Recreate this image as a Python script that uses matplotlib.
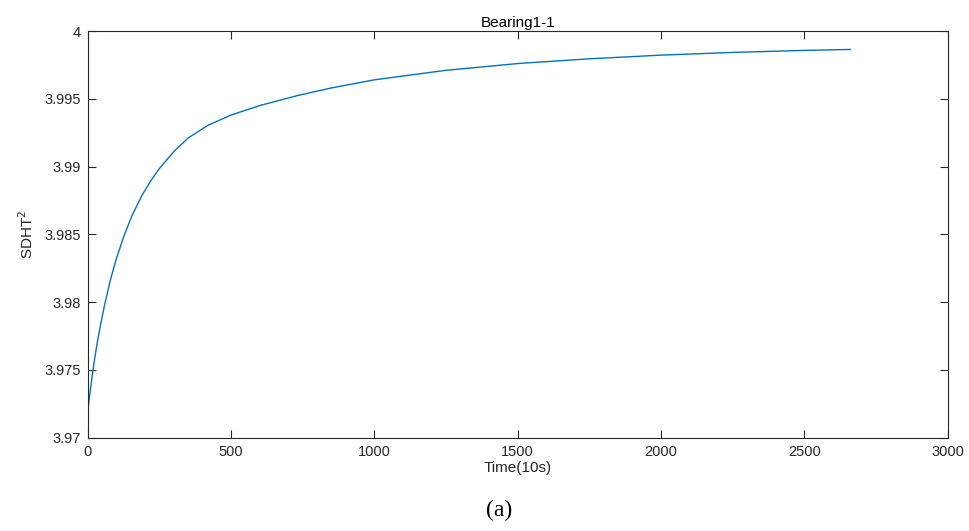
import numpy as np
import matplotlib
matplotlib.use("Agg")
import matplotlib.pyplot as plt

# values (time in units of 10 s)
time = [0, 5, 10, 16, 23, 32, 45, 60, 80, 100, 126, 155, 190, 220, 250, 300, 350,
        420, 500, 600, 734, 850, 1000, 1250, 1500, 1750, 2000, 2250, 2500, 2660]
sdht2 = [3.97190, 3.97280, 3.97365, 3.97461, 3.97565, 3.97685, 3.97835, 3.97990,
         3.98170, 3.98320, 3.98485, 3.98640, 3.98790, 3.98895, 3.98985, 3.99110,
         3.99210, 3.99305, 3.99380, 3.99450, 3.99525, 3.99580, 3.99640, 3.99710,
         3.99760, 3.99795, 3.99822, 3.99842, 3.99857, 3.99864]

xticks = [0, 500, 1000, 1500, 2000, 2500, 3000]
yticks = [3.97, 3.975, 3.98, 3.985, 3.99, 3.995, 4.0]
yticklabels = ['3.97', '3.975', '3.98', '3.985', '3.99', '3.995', '4']

plt.rcParams['font.family'] = ['Liberation Sans', 'DejaVu Sans']
axcol = '#262626'

fig = plt.figure(figsize=(9.69, 5.31), dpi=100)
ax = fig.add_axes([0.0905, 0.1757, 0.8875, 0.7659])

ax.plot(time, sdht2, color='#0072BD', linewidth=1.0)

ax.set_xlim(0, 3000)
ax.set_ylim(3.97, 4.0)
ax.set_xticks(xticks)
ax.set_xticklabels([str(t) for t in xticks])
ax.set_yticks(yticks)
ax.set_yticklabels(yticklabels)
ax.tick_params(direction='in', top=True, right=True, length=6, width=0.8,
               colors=axcol, labelsize=10.5, pad=5)
for sp in ax.spines.values():
    sp.set_color(axcol)
    sp.set_linewidth(0.8)

ax.set_title('Bearing1-1', fontsize=11, color='black', pad=3)
ax.set_xlabel('Time(10s)', fontsize=11, color=axcol, labelpad=2)
ax.set_ylabel('SDHT$^2$', fontsize=11, color=axcol, labelpad=6)

fig.text(0.515, 0.038, '(a)', fontsize=17, family='Liberation Serif',
         ha='center', va='center')

fig.savefig('out.png', dpi=100)
